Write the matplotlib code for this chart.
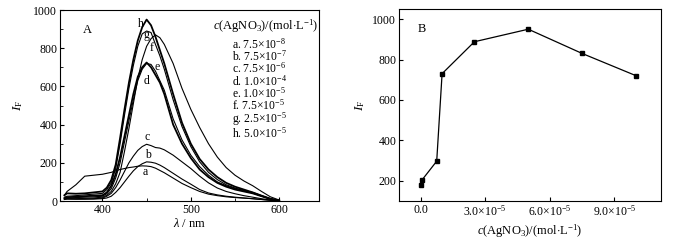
import numpy as np
import matplotlib
matplotlib.use("Agg")
import matplotlib.pyplot as plt
from matplotlib.ticker import MultipleLocator, FixedLocator, FixedFormatter

plt.rcParams['font.family'] = ['Liberation Serif', 'DejaVu Serif']
plt.rcParams['mathtext.fontset'] = 'custom'
plt.rcParams['mathtext.rm'] = 'Liberation Serif'
plt.rcParams['mathtext.it'] = 'Liberation Serif:italic'
plt.rcParams['font.size'] = 8

# Panel A: emission spectra
wl = [357, 360, 370, 380, 390, 400, 405, 410, 415, 420, 425, 430, 435, 440, 445, 450,
      455, 460, 465, 470, 480, 490, 500, 510, 520, 530, 540, 550, 560, 570, 580, 590, 600]

spec_a = [30, 50, 85, 130, 135, 140, 145, 150, 158, 165, 170, 175, 178, 182, 184, 183,
          180, 172, 160, 148, 120, 92, 70, 50, 36, 28, 22, 18, 15, 12, 8, 4, 0]
spec_b = [10, 12, 10, 10, 10, 12, 16, 25, 45, 70, 100, 130, 158, 180, 195, 205,
          203, 198, 188, 175, 145, 115, 88, 60, 42, 32, 25, 20, 16, 12, 8, 4, 0]
spec_c = [8, 10, 10, 10, 12, 15, 25, 40, 70, 110, 155, 200, 235, 265, 285, 297,
          290, 280, 277, 268, 240, 205, 170, 130, 95, 68, 50, 38, 28, 20, 12, 5, 0]
spec_d = [15, 20, 22, 25, 28, 30, 45, 80, 140, 230, 340, 450, 560, 650, 700, 725,
          700, 660, 620, 560, 400, 300, 225, 165, 125, 95, 75, 60, 50, 40, 25, 10, 2]
spec_e = [12, 15, 18, 20, 22, 25, 38, 65, 120, 200, 310, 420, 530, 630, 690, 720,
          715, 680, 630, 580, 430, 320, 240, 180, 135, 100, 80, 65, 55, 45, 28, 12, 2]
spec_f = [10, 12, 12, 14, 16, 20, 30, 50, 90, 150, 260, 380, 510, 640, 740, 810,
          850, 870, 855, 820, 720, 590, 480, 385, 300, 230, 175, 135, 105, 80, 50, 22, 5]
spec_g = [20, 25, 28, 32, 36, 40, 60, 95, 170, 300, 450, 590, 710, 810, 875, 890,
          882, 820, 760, 690, 530, 390, 285, 205, 150, 112, 85, 68, 55, 42, 26, 11, 2]
spec_h = [30, 40, 38, 40, 45, 50, 70, 110, 190, 330, 480, 620, 740, 840, 910, 950,
          920, 860, 790, 720, 560, 410, 300, 220, 165, 125, 95, 75, 60, 45, 28, 12, 2]

spectra = [spec_a, spec_b, spec_c, spec_d, spec_e, spec_f, spec_g, spec_h]
widths = [0.8, 0.8, 0.8, 1.3, 0.8, 0.8, 0.8, 1.3]
conc_labels = [r'a. 7.5$\times$10$^{-8}$', r'b. 7.5$\times$10$^{-7}$',
               r'c. 7.5$\times$10$^{-6}$', r'd. 1.0$\times$10$^{-4}$',
               r'e. 1.0$\times$10$^{-5}$', r'f. 7.5$\times$10$^{-5}$',
               r'g. 2.5$\times$10$^{-5}$', r'h. 5.0$\times$10$^{-5}$']

# Panel B: intensity vs concentration
conc = [7.5e-8, 7.5e-7, 7.5e-6, 1.0e-5, 2.5e-5, 5.0e-5, 7.5e-5, 1.0e-4]
intensity = [180, 205, 297, 730, 888, 950, 830, 720]

fig = plt.figure(figsize=(7, 2.4), dpi=100)
axA = fig.add_axes([0.0857, 0.1625, 0.3700, 0.7958])
axB = fig.add_axes([0.5700, 0.1625, 0.3743, 0.8000])

for s, lw in zip(spectra, widths):
    axA.plot(wl, s, color='k', lw=lw)
axA.set_xlim(352, 645)
axA.set_ylim(0, 1000)
axA.xaxis.set_major_locator(MultipleLocator(100))
axA.xaxis.set_minor_locator(MultipleLocator(50))
axA.yaxis.set_major_locator(MultipleLocator(200))
axA.yaxis.set_minor_locator(MultipleLocator(100))
axA.tick_params(which='both', direction='in', labelsize=8.5, pad=2)
axA.tick_params(which='major', length=3)
axA.tick_params(which='minor', length=2)
axA.set_xlabel(r'$\lambda$ / nm', fontsize=9, labelpad=1)
axA.set_ylabel(r'$I_{\rm F}$', fontsize=9.5, labelpad=6)
axA.text(0.09, 0.88, 'A', transform=axA.transAxes, fontsize=9)

# curve letters
for t, (x, y) in zip('abcdefgh', [(449, 150), (451, 240), (451, 335), (450, 630),
                                  (462, 700), (456, 800), (450, 870), (443, 925)]):
    axA.text(x, y, t, fontsize=8.5, ha='center', va='center')

axA.text(0.59, 0.915, r'$c$(AgNO$_3$)/(mol$\cdot$L$^{-1}$)', transform=axA.transAxes,
         fontsize=9, va='center')
# concentration list as one block of text
axA.text(0.665, 0.86, '\n'.join(conc_labels), transform=axA.transAxes,
         fontsize=8.4, va='top', ha='left', linespacing=0.8)

axB.plot(conc, intensity, color='k', lw=0.9, marker='s', ms=3.2)
axB.set_xlim(-1.0e-5, 11.16e-5)
axB.set_ylim(100, 1050)
axB.xaxis.set_major_locator(FixedLocator([0, 3e-5, 6e-5, 9e-5]))
axB.xaxis.set_major_formatter(FixedFormatter(['0.0', r'3.0$\times$10$^{-5}$',
                                              r'6.0$\times$10$^{-5}$',
                                              r'9.0$\times$10$^{-5}$']))
axB.yaxis.set_major_locator(MultipleLocator(200))
axB.tick_params(which='both', direction='in', labelsize=8.5, length=3, pad=2)
axB.set_xlabel(r'$c$(AgNO$_3$)/(mol$\cdot$L$^{-1}$)', fontsize=9, labelpad=3)
axB.set_ylabel(r'$I_{\rm F}$', fontsize=9.5, labelpad=4)
axB.text(0.07, 0.88, 'B', transform=axB.transAxes, fontsize=9)

for ax in (axA, axB):
    for sp in ax.spines.values():
        sp.set_linewidth(0.8)

fig.savefig('out.png', dpi=100)
